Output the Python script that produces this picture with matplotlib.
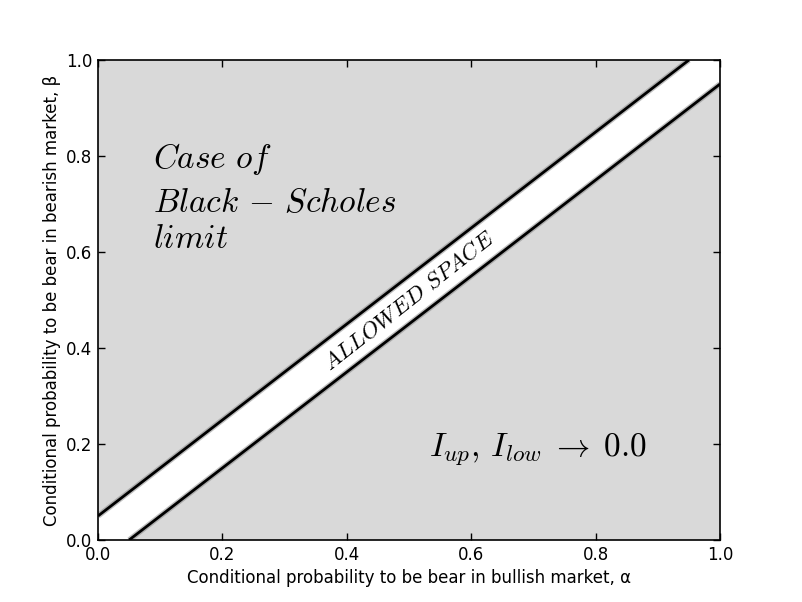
import matplotlib
matplotlib.use('Agg')
import matplotlib.pyplot as plt

plt.rcParams['mathtext.fontset'] = 'cm'
plt.rcParams['font.family'] = ['DejaVu Sans']

# boundaries of the allowed band (beta = alpha +/- 0.05)
upper_alpha = [0.0, 0.95]
upper_beta = [0.05, 1.0]
lower_alpha = [0.05, 1.0]
lower_beta = [0.0, 0.95]
band_alpha = [0.0, 0.05, 1.0, 1.0, 0.95, 0.0]
band_beta = [0.0, 0.0, 0.95, 1.0, 1.0, 0.05]
ticks = [0.0, 0.2, 0.4, 0.6, 0.8, 1.0]
case_lines = ['$Case\\ of$', '$Black\\,-\\,Scholes$', '$limit$']

fig = plt.figure(figsize=(8.02, 6.02), dpi=100)
ax = fig.add_axes([0.1222, 0.1030, 0.7756, 0.7973])
ax.set_facecolor('#d9d9d9')

ax.fill(band_alpha, band_beta, color='white', zorder=1)
# soft grey halo around the boundary lines
ax.plot(upper_alpha, upper_beta, color='#808080', lw=4, alpha=0.5, zorder=2, solid_capstyle='butt')
ax.plot(lower_alpha, lower_beta, color='#808080', lw=4, alpha=0.5, zorder=2, solid_capstyle='butt')
ax.plot(upper_alpha, upper_beta, color='black', lw=2, zorder=3, solid_capstyle='butt')
ax.plot(lower_alpha, lower_beta, color='black', lw=2, zorder=3, solid_capstyle='butt')

ax.set_xlim(0, 1)
ax.set_ylim(0, 1)
ax.set_xticks(ticks)
ax.set_yticks(ticks)
ax.tick_params(direction='in', top=True, right=True, length=5, width=1, labelsize=12, pad=4)
for s in ax.spines.values():
    s.set_linewidth(1.2)

ax.set_xlabel('Conditional probability to be bear in bullish market, α', fontsize=12)
ax.set_ylabel('Conditional probability to be bear in bearish market, β', fontsize=12)

for txt, yy in zip(case_lines, [0.775, 0.683, 0.608]):
    ax.text(0.088, yy, txt, fontsize=24, ha='left', va='baseline')
ax.text(0.5, 0.5, '$ALLOWED\\ SPACE$', fontsize=16.5, ha='center', va='center',
        rotation=38.2, rotation_mode='anchor')
ax.text(0.708, 0.177, '$I_{up},\\,I_{low}\\;\\rightarrow\\;0.0$', fontsize=24,
        ha='center', va='baseline')

fig.savefig('out.png', dpi=100)
